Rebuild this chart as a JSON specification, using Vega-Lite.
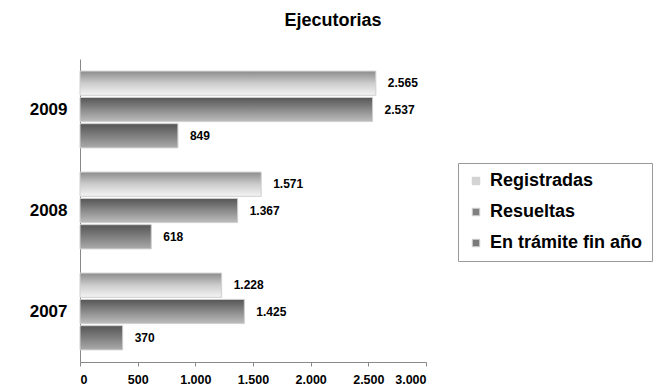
{
  "$schema": "https://vega.github.io/schema/vega-lite/v6.json",
  "autosize": "none",
  "width": 346,
  "height": 303,
  "padding": {"left": 80, "top": 59, "right": 235, "bottom": 25},
  "background": "white",
  "config": {
    "locale": {"number": {"decimal": ",", "thousands": ".", "grouping": [3], "currency": ["", " €"]}},
    "font": "Liberation Sans",
    "view": {"stroke": null}
  },
  "title": {
    "text": "Ejecutorias",
    "fontSize": 18,
    "fontWeight": "bold",
    "font": "Liberation Sans",
    "color": "#000",
    "anchor": "middle",
    "frame": "group",
    "dx": 80,
    "offset": 29
  },
  "data": {
    "values": [
      {"year": "2009", "serie": "Registradas", "value": 2565},
      {"year": "2009", "serie": "Resueltas", "value": 2537},
      {"year": "2009", "serie": "En trámite fin año", "value": 849},
      {"year": "2008", "serie": "Registradas", "value": 1571},
      {"year": "2008", "serie": "Resueltas", "value": 1367},
      {"year": "2008", "serie": "En trámite fin año", "value": 618},
      {"year": "2007", "serie": "Registradas", "value": 1228},
      {"year": "2007", "serie": "Resueltas", "value": 1425},
      {"year": "2007", "serie": "En trámite fin año", "value": 370}
    ]
  },
  "encoding": {
    "y": {
      "field": "year",
      "type": "nominal",
      "sort": ["2009", "2008", "2007"],
      "scale": {"paddingInner": 0.24, "paddingOuter": 0.12},
      "axis": {
        "title": null,
        "labelFontSize": 17,
        "labelFontWeight": "bold",
        "labelColor": "#000",
        "labelPadding": 13,
        "ticks": false,
        "domainColor": "#888"
      }
    },
    "yOffset": {
      "field": "serie",
      "type": "nominal",
      "scale": {"domain": ["Registradas", "Resueltas", "En trámite fin año"], "paddingInner": 0.08}
    },
    "x": {
      "field": "value",
      "type": "quantitative",
      "scale": {"domain": [0, 3000]},
      "axis": {
        "title": null,
        "values": [0, 500, 1000, 1500, 2000, 2500, 3000],
        "format": ",d",
        "grid": false,
        "labelFontSize": 12.5,
        "labelFontWeight": "bold",
        "labelColor": "#000",
        "labelPadding": 7,
        "tickSize": 4,
        "tickColor": "#888",
        "domainColor": "#888"
      }
    }
  },
  "layer": [
    {
      "transform": [{"filter": "datum.serie === 'Registradas'"}],
      "mark": {"type": "bar", "stroke": "#cfcfcf", "strokeWidth": 1,
        "color": {"gradient": "linear", "x1": 0, "y1": 0, "x2": 0, "y2": 1, "stops": [{"offset": 0, "color": "#8c8c8c"}, {"offset": 0.5, "color": "#cccccc"}, {"offset": 1, "color": "#f4f4f4"}]}}
    },
    {
      "transform": [{"filter": "datum.serie === 'Resueltas'"}],
      "mark": {"type": "bar", "stroke": "#cfcfcf", "strokeWidth": 1,
        "color": {"gradient": "linear", "x1": 0, "y1": 0, "x2": 0, "y2": 1, "stops": [{"offset": 0, "color": "#555555"}, {"offset": 0.5, "color": "#8a8a8a"}, {"offset": 1, "color": "#bdbdbd"}]}}
    },
    {
      "transform": [{"filter": "datum.serie === 'En trámite fin año'"}],
      "mark": {"type": "bar", "stroke": "#cfcfcf", "strokeWidth": 1,
        "color": {"gradient": "linear", "x1": 0, "y1": 0, "x2": 0, "y2": 1, "stops": [{"offset": 0, "color": "#555555"}, {"offset": 0.5, "color": "#7f7f7f"}, {"offset": 1, "color": "#ababab"}]}}
    },
    {
      "mark": {"type": "square", "opacity": 0, "size": 1},
      "encoding": {
        "color": {
          "field": "serie",
          "type": "nominal",
          "scale": {
            "domain": ["Registradas", "Resueltas", "En trámite fin año"],
            "range": ["#d4d4d4", "#808080", "#7a7a7a"]
          },
          "legend": {
            "title": null,
            "orient": "none",
            "legendX": 378,
            "legendY": 104,
            "symbolType": "square",
            "symbolSize": 56,
            "symbolOpacity": 1,
            "symbolStrokeColor": "#d0d0d0",
            "symbolStrokeWidth": 1,
            "labelFontSize": 18,
            "labelFontWeight": "bold",
            "labelColor": "#000",
            "labelLimit": 300,
            "labelOffset": 5,
            "rowPadding": 13,
            "padding": 9,
            "strokeColor": "#999",
            "fillColor": "white"
          }
        }
      }
    },
    {
      "mark": {"type": "text", "align": "left", "baseline": "middle", "dx": 12, "fontSize": 12, "fontWeight": "bold", "color": "#000"},
      "encoding": {
        "text": {"field": "value", "type": "quantitative", "format": ",d"}
      }
    }
  ]
}
